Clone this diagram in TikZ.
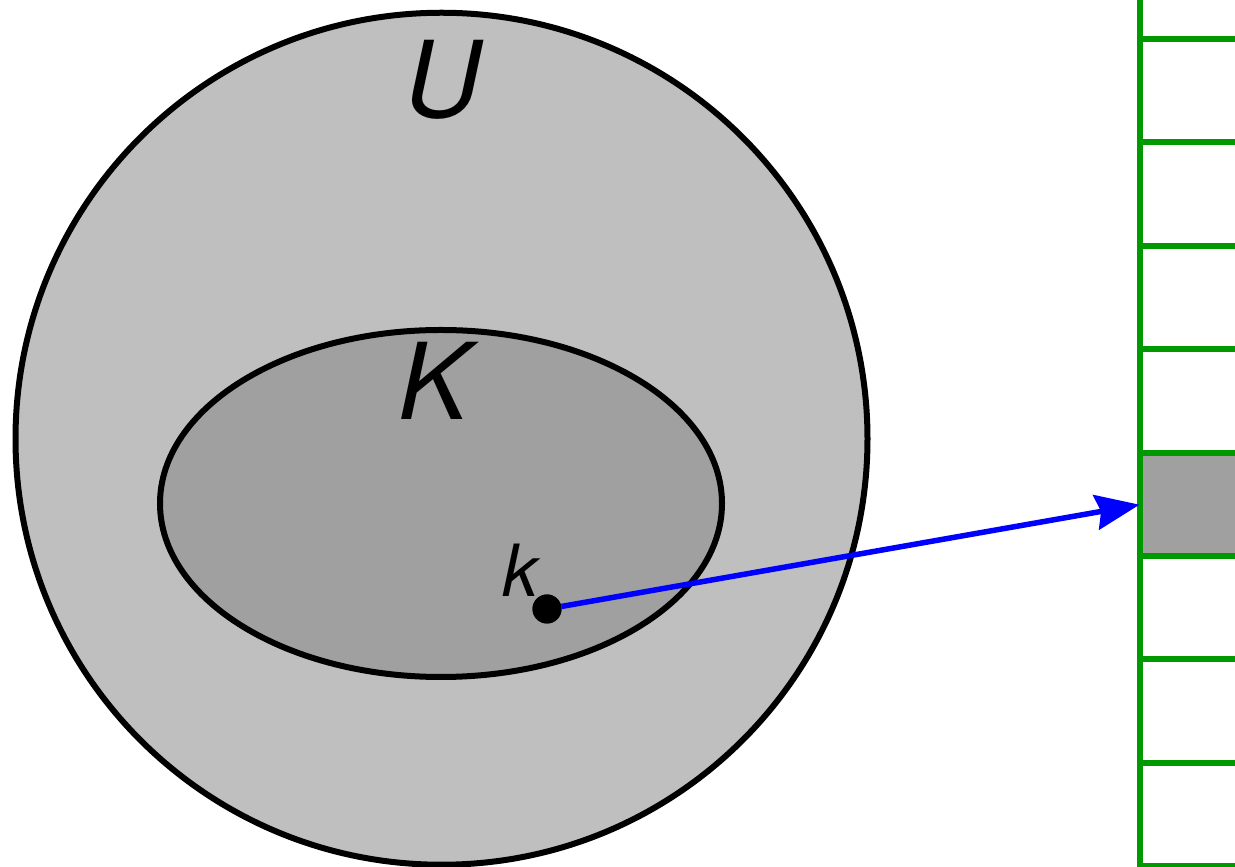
\documentclass[tikz,border=0pt]{standalone}
\usepackage{fontspec}
\setmainfont{TeX Gyre Heros}
\usetikzlibrary{shapes.geometric,arrows.meta}
\definecolor{outergray}{HTML}{BFBFBF}
\definecolor{innergray}{HTML}{A0A0A0}
\definecolor{gridgreen}{HTML}{009900}
\definecolor{arrowblue}{HTML}{0000FF}
\tikzset{
  setline/.style={draw=black, line width=6pt},
  biglabel/.style={inner sep=0pt, anchor=base, font=\fontsize{106}{106}\selectfont\itshape},
  smalllabel/.style={inner sep=0pt, anchor=base, font=\fontsize{72}{72}\selectfont\itshape},
  gridline/.style={draw=gridgreen, line width=6pt},
  cellbox/.style={rectangle, draw=gridgreen, line width=6pt, fill=innergray, minimum width=140pt, minimum height=103.5pt, anchor=west, inner sep=0pt, outer sep=0pt},
  mapsto/.style={draw=arrowblue, line width=5.5pt, -{Stealth[length=44pt, width=35pt, inset=5pt]}},
  dotnode/.style={circle, fill=black, minimum size=29pt, inner sep=0pt}
}
\begin{document}
\begin{tikzpicture}[x=1pt,y=1pt]
\useasboundingbox (0,0) rectangle (1235,867);
\clip (0,0) rectangle (1235,867);
\node[circle, setline, fill=outergray, minimum size=852pt, inner sep=0pt] (U) at (441.5,428.25) {};
\node[ellipse, setline, fill=innergray, minimum width=562pt, minimum height=347pt, inner sep=0pt] (K) at (441,363.5) {};
\node[biglabel] (Ulabel) at (443,749) {U};
\node[biglabel] (Klabel) at (434,447) {K};
\node[smalllabel] (klabel) at (520,270) {k};
% grid
\coordinate (gtop) at (1139.5,870);
\coordinate (gbot) at (1139.5,-3);
\draw[gridline] (gtop) -- (gbot);
\foreach \i in {0,...,8} {
  \coordinate (l\i) at (1139.5, 867-39-103.4*\i);
  \coordinate (r\i) at (1240, 867-39-103.4*\i);
  \draw[gridline] (l\i) -- (r\i);
}
\node[cellbox] (cell) at (1139.5,362.3) {};
\node[dotnode] (dot) at (547,258) {};
\draw[mapsto] (dot) -- (cell.west);
\node[dotnode] (dottop) at (dot.center) {};
\end{tikzpicture}
\end{document}
